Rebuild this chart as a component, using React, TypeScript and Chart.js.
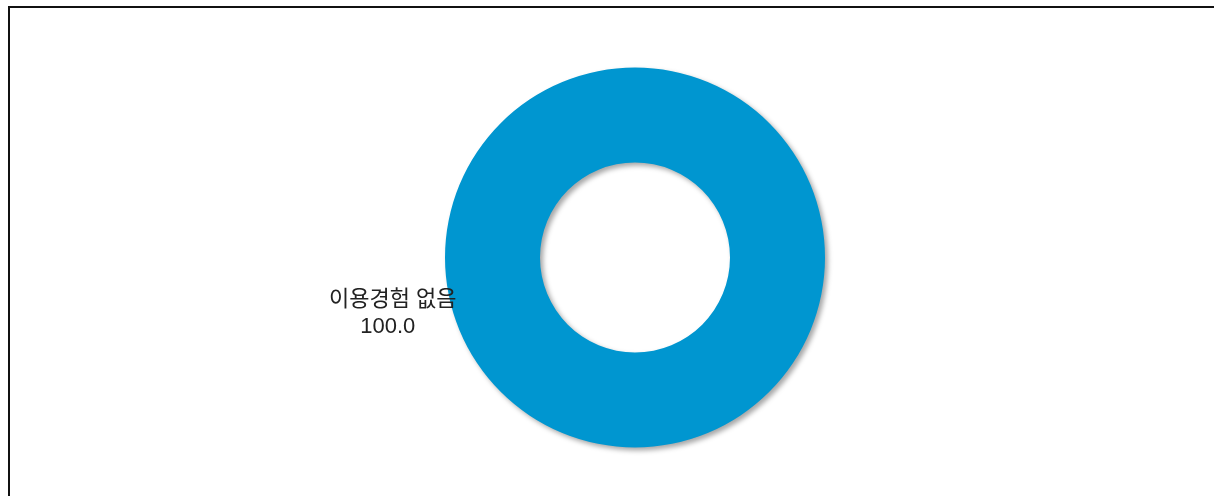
import { useEffect, useRef } from "react";
import { Chart, registerables } from "chart.js";

Chart.register(...registerables);

const categories = ["이용경험 없음"];
const values = [100.0];
const sliceColors = ["#0096d0"];

// Soft drop shadow behind the ring
const shadowPlugin = {
  id: "ringShadow",
  beforeDatasetsDraw(chart: any) {
    const ctx = chart.ctx;
    ctx.save();
    ctx.shadowColor = "rgba(0,0,0,0.35)";
    ctx.shadowBlur = 5;
    ctx.shadowOffsetX = 3;
    ctx.shadowOffsetY = 3;
  },
  afterDatasetsDraw(chart: any) {
    chart.ctx.restore();
  },
};

// Category name and value written to the left of the ring
const sideLabelPlugin = {
  id: "sideLabel",
  afterDraw(chart: any) {
    const ctx = chart.ctx;
    const arc = chart.getDatasetMeta(0).data[0];
    if (!arc) return;
    const { x, y, outerRadius } = arc.getProps(["x", "y", "outerRadius"], true);
    const lx = x - outerRadius * 1.275;
    const ly = y + outerRadius * 0.225;
    ctx.save();
    ctx.fillStyle = "#222222";
    ctx.textAlign = "center";
    ctx.textBaseline = "middle";
    ctx.font = "22px 'Liberation Sans', 'Noto Sans CJK KR', sans-serif";
    ctx.fillText(categories[0], lx, ly);
    ctx.fillText(values[0].toFixed(1), lx - 5, ly + 27);
    ctx.restore();
  },
};

export default function App() {
  const canvasRef = useRef<HTMLCanvasElement | null>(null);

  useEffect(() => {
    if (!canvasRef.current) return;
    const chart = new Chart(canvasRef.current, {
      type: "doughnut",
      data: {
        labels: categories,
        datasets: [
          {
            data: values,
            backgroundColor: sliceColors,
            borderWidth: 0,
          },
        ],
      },
      options: {
        animation: false,
        responsive: false,
        cutout: "50%",
        layout: { padding: { top: 67.5, bottom: 48.5, left: 56, right: 0 } },
        plugins: {
          legend: { display: false },
          tooltip: { enabled: false },
        },
      },
      plugins: [shadowPlugin, sideLabelPlugin],
    });
    return () => chart.destroy();
  }, []);

  return (
    <div style={{ position: "absolute", left: 0, top: 0, width: 1214, height: 496, background: "#fff" }}>
      <div
        style={{
          position: "absolute",
          left: 8,
          top: 6,
          width: 1206,
          height: 490,
          borderTop: "2px solid #111",
          borderLeft: "2px solid #111",
          boxSizing: "border-box",
        }}
      />
      <canvas ref={canvasRef} width={1214} height={496} style={{ position: "absolute", left: 0, top: 0 }} />
    </div>
  );
}
